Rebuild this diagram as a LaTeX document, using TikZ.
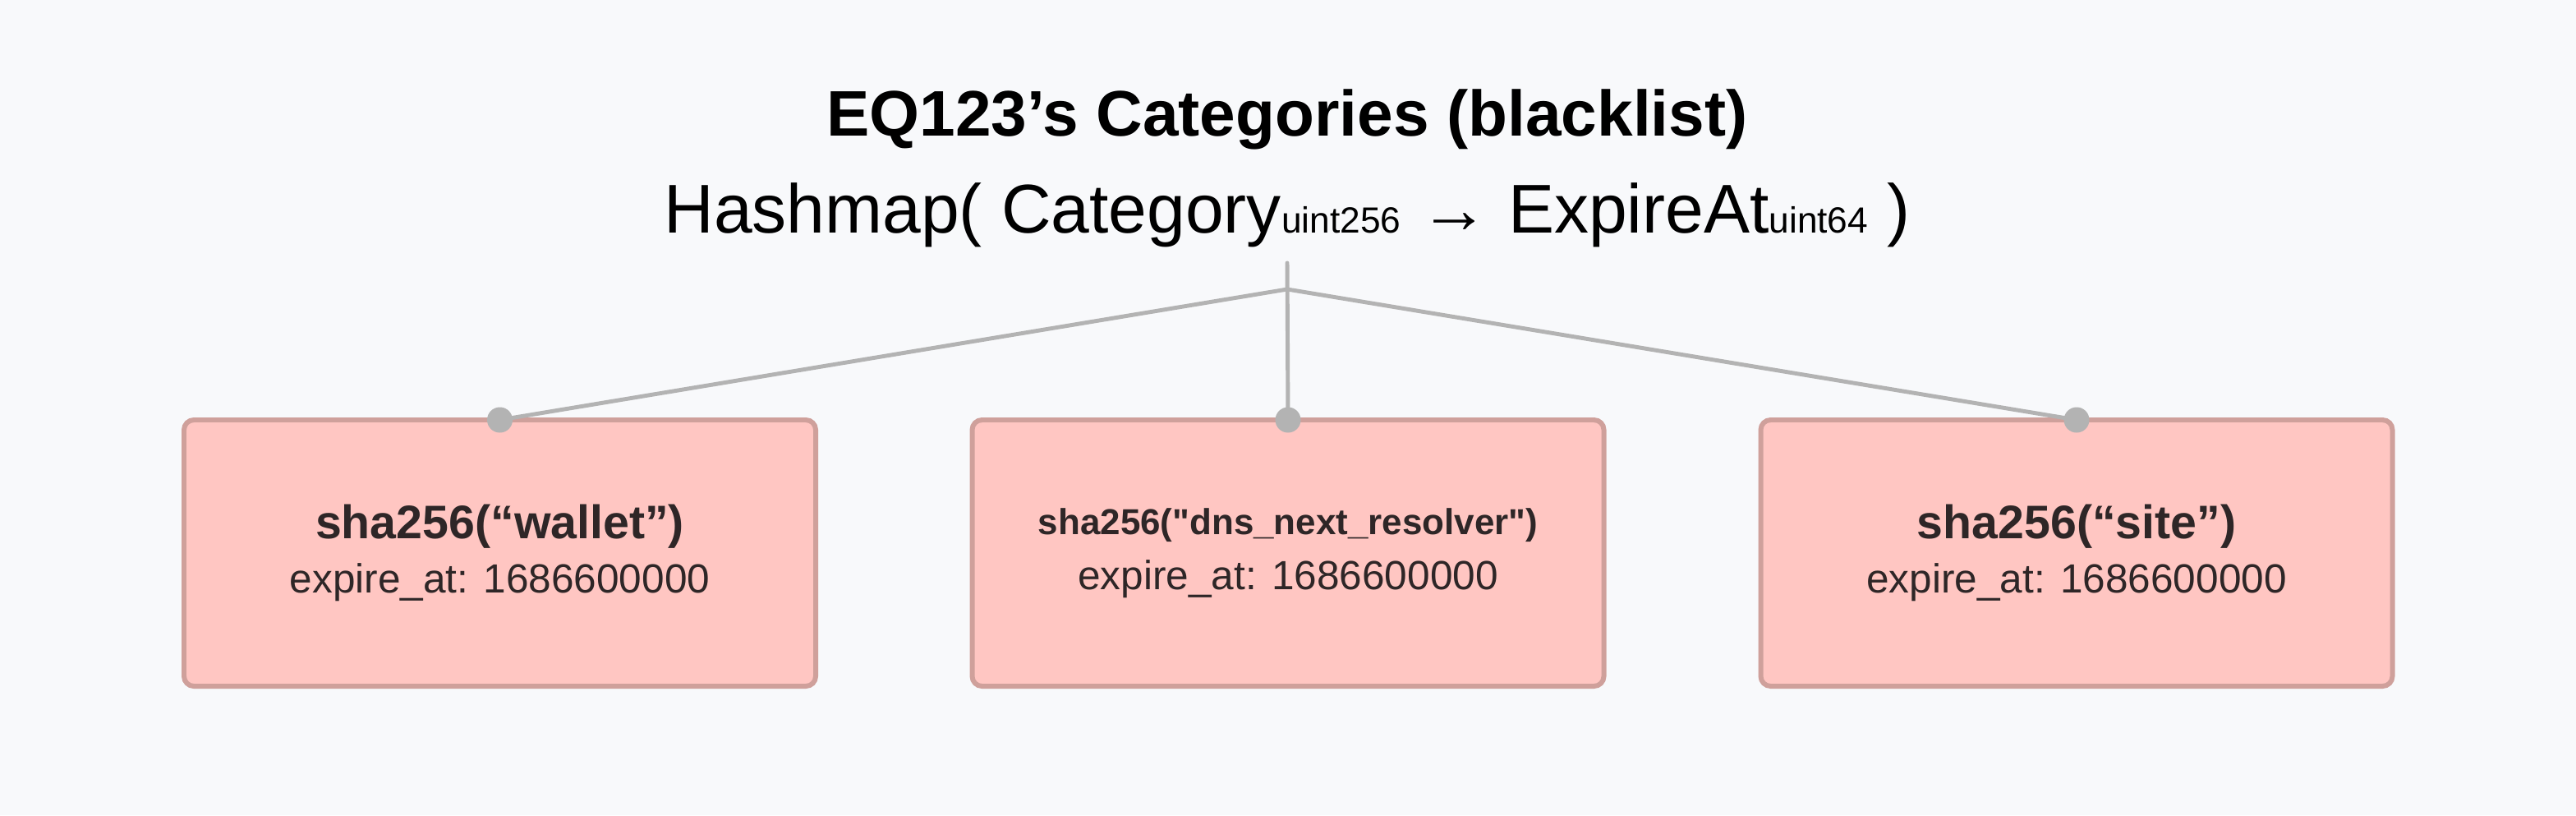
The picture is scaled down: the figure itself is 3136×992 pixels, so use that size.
\documentclass[tikz,border=0pt]{standalone}
\usepackage{fontspec}
\setmainfont{Liberation Sans}[Ligatures=TeXOff]
\usetikzlibrary{positioning}
\definecolor{bg}{HTML}{F8F9FB}
\definecolor{catfill}{HTML}{FFC6C2}
\definecolor{catedge}{HTML}{CFA09B}
\definecolor{wire}{HTML}{B3B3B3}
\definecolor{ink}{HTML}{2E2627}
\newcommand{\tsub}[1]{{\fontsize{12.6}{14}\selectfont #1}}
\newcommand{\expire}{\fontsize{14.1}{16}\selectfont expire\_at: 1686600000}

\begin{document}
\begin{tikzpicture}[x=0.1mm, y=-0.1mm]
	\tikzset{cat/.style={draw=catedge, fill=catfill, line width=1.7pt, rounded corners=1.2mm,
			minimum width=76.9mm, minimum height=32.4mm, inner sep=0pt, outer sep=0pt,
			align=center, text=ink},
		wire/.style={draw=wire, line width=1.4pt, line cap=round},
		joint/.style={fill=wire}}
	
	\fill[bg] (0,0) rectangle (3136,992);
	
	\node[anchor=base] (title) at (1567,165) {\bfseries\fontsize{22.3}{27}\selectfont EQ123’s Categories (blacklist)};
	\node[anchor=base] (map) at (1567,283) {\fontsize{23.9}{28}\selectfont Hashmap( Category\tsub{uint256} → ExpireAt\tsub{uint64} )};
	
	\node[cat] (wallet) at (608.5,673) {{\bfseries\fontsize{16.3}{19}\selectfont sha256(“wallet”)}\\[1.5mm] \expire};
	\node[cat] (resolver) at (1568,673) {{\bfseries\fontsize{12.5}{15}\selectfont sha256("dns\_next\_resolver")}\\[1.8mm] \expire};
	\node[cat] (site) at (2528,673) {{\bfseries\fontsize{16.3}{19}\selectfont sha256(“site”)}\\[1.5mm] \expire};
	
	\coordinate (stem) at (1567,320);
	\coordinate (fork) at (1567,352);
	\draw[wire] (stem) -- (resolver.north);
	\draw[wire] (fork) -- (wallet.north);
	\draw[wire] (fork) -- (site.north);
	\foreach \b in {wallet,resolver,site}
		\fill[joint] (\b.north) circle (1.55mm);
	
\end{tikzpicture}
\end{document}
